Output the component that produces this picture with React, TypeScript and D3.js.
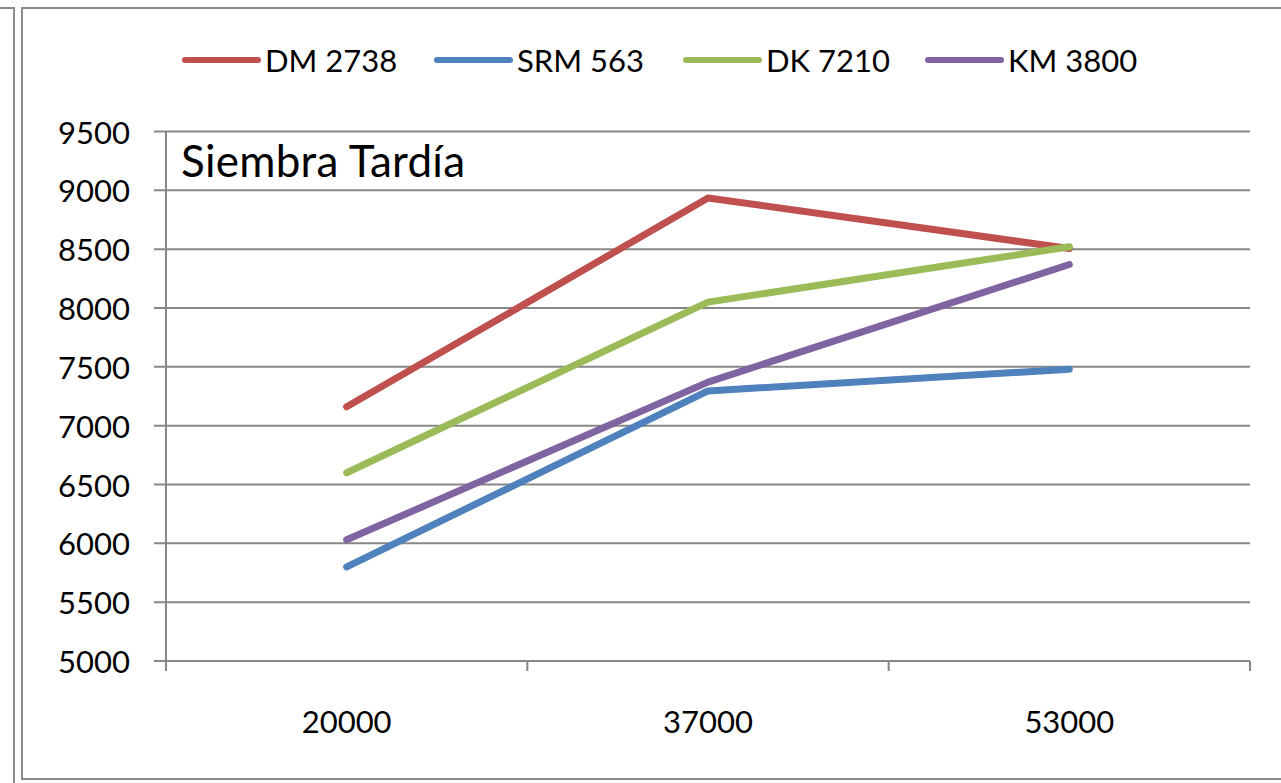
import React from "react";
import * as d3 from "d3";

const categories = ["20000", "37000", "53000"];
const seriesNames = ["DM 2738", "SRM 563", "DK 7210", "KM 3800"];
const seriesColors = ["#C0504D", "#4F81BD", "#9BBB59", "#8064A2"];
const dm2738 = [7160, 8935, 8505];
const srm563 = [5800, 7295, 7480];
const dk7210 = [6600, 8050, 8520];
const km3800 = [6030, 7370, 8370];
const yTicks = [5000, 5500, 6000, 6500, 7000, 7500, 8000, 8500, 9000, 9500];
const title = "Siembra Tardía";

const seriesValues = [dm2738, srm563, dk7210, km3800];

const W = 1281;
const H = 783;
const plot = { left: 166, right: 1250, top: 131.5, bottom: 661 };
const legendX = [185, 437, 686, 928];
const FONT = "Lato, 'Open Sans', sans-serif";
const GRID = "#878787";

export default function App() {
  const x = d3
    .scaleBand<string>()
    .domain(categories)
    .range([plot.left, plot.right])
    .padding(0);
  const y = d3.scaleLinear().domain([5000, 9500]).range([plot.bottom, plot.top]);
  const cx = (c: string) => (x(c) as number) + x.bandwidth() / 2;

  const line = d3
    .line<number>()
    .x((_, i) => cx(categories[i]))
    .y((d) => y(d));

  const boundaries = [...categories.map((c) => x(c) as number), plot.right];

  return (
    <svg
      width={W}
      height={H}
      style={{ position: "absolute", left: 0, top: 0, background: "#fff" }}
      fontFamily={FONT}
    >
      <rect x={0} y={0} width={W} height={H} fill="#fff" />
      <path d={`M0,8 H14 V${H}`} fill="none" stroke="#8c8c8c" strokeWidth={2} />
      <rect x={22} y={8} width={W} height={771} fill="none" stroke="#8c8c8c" strokeWidth={2} />

      {yTicks.map((t) => (
        <g key={t}>
          <line x1={154} x2={plot.right} y1={y(t)} y2={y(t)} stroke={GRID} strokeWidth={2} />
          <text
            x={130}
            y={y(t)}
            textAnchor="end"
            dominantBaseline="central"
            fontSize={31}
            fill="#000"
          >
            {t}
          </text>
        </g>
      ))}
      <line x1={plot.left} x2={plot.left} y1={plot.top} y2={plot.bottom} stroke={GRID} strokeWidth={2} />
      {boundaries.map((b, i) => (
        <line key={i} x1={b} x2={b} y1={plot.bottom} y2={plot.bottom + 10} stroke={GRID} strokeWidth={2} />
      ))}
      {categories.map((c) => (
        <text key={c} x={cx(c)} y={733} textAnchor="middle" fontSize={31} fill="#000">
          {c}
        </text>
      ))}

      <text x={181} y={177} fontSize={44} fill="#000" textLength={284} lengthAdjust="spacing">
        {title}
      </text>

      {seriesValues.map((vals, i) => (
        <path
          key={seriesNames[i]}
          d={line(vals) || ""}
          fill="none"
          stroke={seriesColors[i]}
          strokeWidth={7}
          strokeLinecap="round"
          strokeLinejoin="round"
        />
      ))}

      {seriesNames.map((n, i) => (
        <g key={n}>
          <line
            x1={legendX[i]}
            x2={legendX[i] + 73}
            y1={60}
            y2={60}
            stroke={seriesColors[i]}
            strokeWidth={6}
            strokeLinecap="round"
          />
          <text x={legendX[i] + 80} y={72} fontSize={31} fill="#000">
            {n}
          </text>
        </g>
      ))}
    </svg>
  );
}
